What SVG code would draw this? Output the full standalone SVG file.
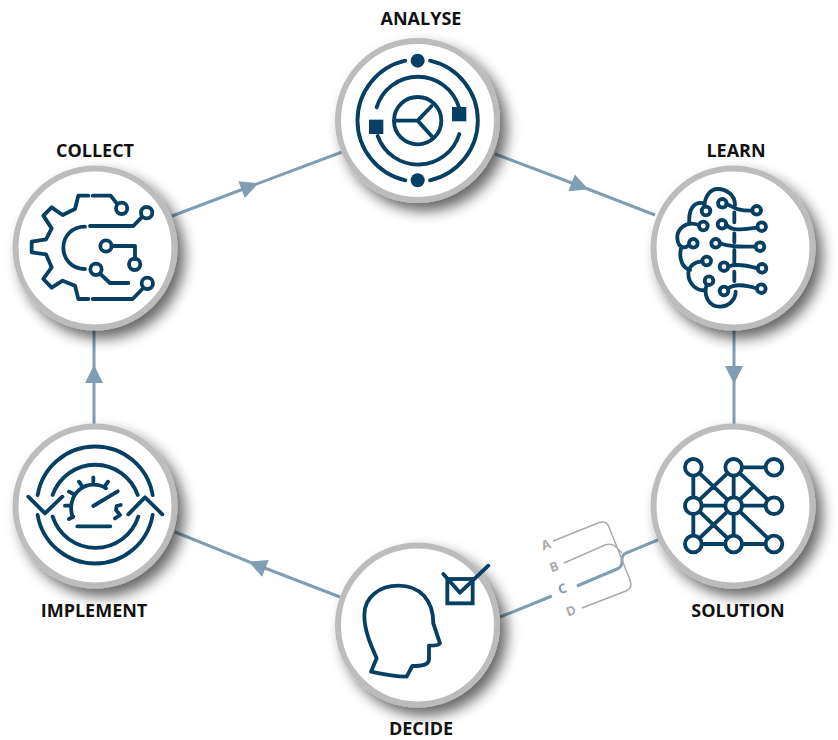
<svg xmlns="http://www.w3.org/2000/svg" width="838" height="740" viewBox="0 0 838 740">
<style>
.lbl{font-family:"Open Sans","Noto Sans",sans-serif;font-weight:700;font-size:18px;fill:#111;text-anchor:middle}
.disc{fill:#fff;stroke:#bcbcbc;stroke-width:6;filter:url(#sh)}
.ic{fill:none;stroke:#053f63;stroke-width:11.500;stroke-linecap:round;stroke-linejoin:round}
.ic .f{fill:#053f63;stroke:none}
.ic .w{fill:#fff}
.cn{fill:none;stroke:#7f9db3;stroke-width:3}
.br{fill:none;stroke:#aaa;stroke-width:1.500}
.opt{font-family:"Open Sans","Noto Sans",sans-serif;font-weight:700;font-size:13px;fill:#aaa;text-anchor:middle}
</style>
<defs>
<filter id="sh" x="-30%" y="-30%" width="170%" height="170%"><feDropShadow dx="7" dy="8" stdDeviation="7" flood-color="#000" flood-opacity=".6"/></filter>
<marker id="ah" markerUnits="userSpaceOnUse" markerWidth="20" markerHeight="20" refX="10" refY="10" orient="auto"><path d="M1,1 L19,10 L1,19 Z" fill="#7f9db3"/></marker>
</defs>
<g id="connectors">
<path class="cn" marker-mid="url(#ah)" d="M172,216 L250,186.500 L342,152"/>
<path class="cn" marker-mid="url(#ah)" d="M495,154 L580,186 L655,215"/>
<path class="cn" marker-mid="url(#ah)" d="M734,330 V375 V424"/>
<path class="cn" marker-mid="url(#ah)" d="M340,597 L257,565 L175,532"/>
<path class="cn" marker-mid="url(#ah)" d="M94,424 V374 V330"/>
<path class="cn" d="M500,617 L552,596 M577,586 L617,569 Q622,567 622,562 V559 Q622,555 626,553 L660,539"/>
<path class="br" d="M553,541 L598,523 Q606,520 609,527 L630,580 Q633,588 626,591 L582,608 M564,563 L605,545 Q612,543 616,547 L622,553"/>
</g>
<g id="analyse">
<text class="lbl" x="421" y="25">ANALYSE</text>
<circle class="disc" cx="417.500" cy="120.500" r="79.500"/>
<g class="ic" transform="translate(320,0) scale(.3333)">
<circle class="f" cx="293" cy="182" r="21"/><circle class="f" cx="293" cy="541" r="21"/>
<path d="M330,182 A184,184 0 0 1 330,541 M256,541 A184,184 0 0 1 256,182"/>
<path d="M170,322 A129,129 0 0 1 417,322 M418,402 A129,129 0 0 1 173,408"/>
<rect class="f" x="396" y="321" width="43" height="43"/><rect class="f" x="147" y="359" width="43" height="43"/>
<circle cx="293" cy="362" r="71"/>
<path d="M222,362 H293 L335,318 M293,362 L338,412"/>
</g>
</g>
<g id="collect">
<text class="lbl" x="95" y="157">COLLECT</text>
<circle class="disc" cx="95" cy="248" r="79.500"/>
<g class="ic" transform="translate(0,135) scale(.3333)">
<path d="M265,182 H235 L225,222 L188,240 L155,217 L130,242 L155,280 L138,313 L95,320 V352 L138,358 L155,397 L130,432 L155,458 L188,437 L225,452 L235,492 H265"/>
<path d="M255,275 C215,275 190,305 190,338 C190,372 215,402 255,402"/>
<path d="M278,182 H332 L350,205 M270,273 H400 L425,247 M335,333 H405 V372 M300,416 L330,444 H385 M278,492 H398 L427,462"/>
<circle cx="365" cy="220" r="17"/><circle cx="440" cy="233" r="17"/><circle cx="318" cy="333" r="17"/><circle cx="404" cy="388" r="17"/><circle cx="288" cy="403" r="17"/><circle cx="442" cy="445" r="17"/>
</g>
</g>
<g id="learn">
<text class="lbl" x="736" y="157">LEARN</text>
<circle class="disc" cx="733" cy="248" r="79.500"/>
<g class="ic" transform="translate(645,135) scale(.3333)">
<path d="M270,210 C270,180 245,162 218,162 C195,162 180,185 178,212"/>
<path d="M178,205 C145,198 130,225 133,265 M162,270 C120,255 95,285 97,310 C99,335 115,345 132,330 M108,340 C100,375 115,400 135,405 M172,380 C150,378 130,395 130,415 C130,450 160,470 180,465 M185,450 C175,480 190,515 225,515 C255,515 272,490 272,470"/>
<path d="M268,232 V262 M268,295 V322 M268,345 V385 M268,410 V438"/>
<path d="M245,207 C265,215 270,228 322,227 M244,270 C265,290 290,283 338,278 M225,325 C250,335 280,335 330,335 M250,395 C270,385 300,390 338,400 M250,460 C270,445 300,450 335,460"/>
<circle cx="183" cy="228" r="13"/><circle cx="175" cy="273" r="13"/><circle cx="145" cy="325" r="13"/><circle cx="185" cy="378" r="13"/><circle cx="192" cy="437" r="13"/>
<circle cx="232" cy="205" r="13"/><circle cx="231" cy="268" r="13"/><circle cx="212" cy="325" r="13"/><circle cx="237" cy="395" r="13"/><circle cx="237" cy="468" r="13"/>
<circle cx="335" cy="226" r="13"/><circle cx="350" cy="275" r="13"/><circle cx="345" cy="335" r="13"/><circle cx="351" cy="400" r="13"/><circle cx="349" cy="461" r="13"/>
</g>
</g>
<g id="solution">
<circle class="disc" cx="733" cy="506" r="79.500"/>
<text class="lbl" x="738" y="617">SOLUTION</text>
<g class="ic" transform="translate(645,420) scale(.3333)">
<path d="M145,142 V372 M266,142 V372 M266,142 H387 M145,257 H387 M145,372 H387 M145,142 L266,257 L387,372 M266,142 L145,257 M266,142 L387,257 M266,257 L325,200 M145,257 L266,372 M266,257 L145,372"/>
<circle class="w" cx="145" cy="142" r="25"/><circle class="w" cx="266" cy="142" r="25"/><circle class="w" cx="387" cy="142" r="25"/>
<circle class="w" cx="145" cy="257" r="25"/><circle class="w" cx="266" cy="257" r="25"/><circle class="w" cx="387" cy="257" r="25"/>
<circle class="w" cx="145" cy="372" r="25"/><circle class="w" cx="266" cy="372" r="25"/><circle class="w" cx="387" cy="372" r="25"/>
</g>
</g>
<g id="implement">
<circle class="disc" cx="95" cy="506" r="79.500"/>
<text class="lbl" x="94" y="617">IMPLEMENT</text>
<g class="ic" transform="translate(0,420) scale(.3333)">
<path d="M113,225 A175,175 0 0 1 458,225 M113,285 A175,175 0 0 0 458,285 M158,225 A135,135 0 0 1 413,225 M158,290 A135,135 0 0 0 415,290"/>
<path d="M85,230 L135,280 L187,230 M385,283 L435,232 L487,283"/>
<path d="M218,292 C208,262 214,228 240,208 C262,190 295,190 318,205 M280,172 V185 M237,185 L245,197 M324,185 L316,197 M207,215 L220,222 M195,257 H208 M207,297 L220,290"/>
<path d="M362,255 L350,258 L348,270 L360,285 L345,295"/>
<path d="M280,258 L353,214 M232,319 H331"/>
</g>
</g>
<g id="decide">
<circle class="disc" cx="417.500" cy="625" r="79.500"/>
<text class="lbl" x="421" y="734.500">DECIDE</text>
<g class="ic" transform="translate(325,530) scale(.3333)">
<path d="M138,425 L155,385 C135,340 118,300 118,255 C118,200 165,167 220,167 C285,167 325,210 325,280 L345,340 C345,345 335,347 312,347 L312,390 C310,405 290,408 262,408 L245,440 C210,440 170,432 138,425 Z"/>
<rect x="367" y="147" width="76" height="73" stroke-linejoin="miter"/>
<path d="M355,132 L405,188 L490,107"/>
</g>
</g>
<g id="options">
<text class="opt" transform="translate(547.500,549) rotate(-20)">A</text>
<text class="opt" transform="translate(555.500,571) rotate(-20)">B</text>
<text class="opt" style="fill:#7f9db3" transform="translate(564,593) rotate(-20)">C</text>
<text class="opt" transform="translate(572.500,615) rotate(-20)">D</text>
</g>
</svg>
